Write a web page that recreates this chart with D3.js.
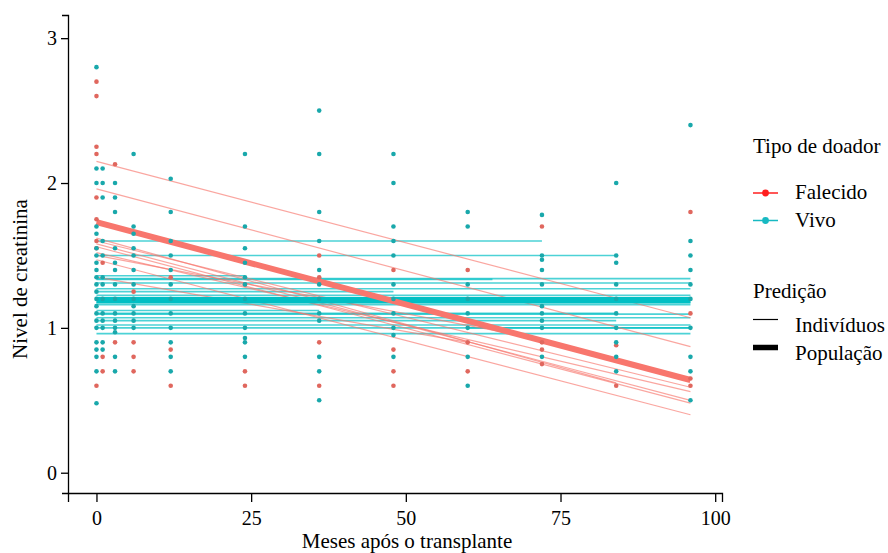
<!DOCTYPE html>
<html>
<head>
<meta charset="utf-8">
<script src="https://cdn.jsdelivr.net/npm/d3@7"></script>
<style>
    body { margin: 0; background: #fff; }
    svg text { font-family: "Liberation Serif", "Times New Roman", serif; fill: #000; }
</style>
</head>
<body>
<div id="chart"></div>
<script>
// observed creatinine levels, [month, level]
const pontosVivo = [
    [0, 2.8], [0, 2.1], [0, 2.0], [0, 1.7], [0, 1.65], [0, 1.55], [0, 1.5], [0, 1.45], [0, 1.4], [0, 1.35],
    [0, 1.3], [0, 1.25], [0, 1.2], [0, 1.15], [0, 1.1], [0, 1.05], [0, 1.0], [0, 0.9], [0, 0.85], [0, 0.8],
    [0, 0.7], [0, 0.48],
    [1, 2.1], [1, 2.0], [1, 1.9], [1, 1.6], [1, 1.5], [1, 1.35], [1, 1.3], [1, 1.2], [1, 1.1], [1, 1.05],
    [1, 1.0], [1, 0.9], [1, 0.85],
    [3, 2.0], [3, 1.9], [3, 1.8], [3, 1.55], [3, 1.45], [3, 1.4], [3, 1.3], [3, 1.2], [3, 1.1], [3, 1.05],
    [3, 1.0], [3, 0.97], [3, 0.8], [3, 0.7],
    [6, 2.2], [6, 1.7], [6, 1.65], [6, 1.55], [6, 1.5], [6, 1.4], [6, 1.3], [6, 1.2], [6, 1.15], [6, 1.1],
    [6, 1.05], [6, 1.0],
    [12, 2.03], [12, 1.8], [12, 1.6], [12, 1.5], [12, 1.4], [12, 1.3], [12, 1.2], [12, 1.1], [12, 1.0],
    [12, 0.9], [12, 0.8], [12, 0.7],
    [24, 2.2], [24, 1.7], [24, 1.55], [24, 1.45], [24, 1.35], [24, 1.3], [24, 1.2], [24, 1.1], [24, 1.0],
    [24, 0.93], [24, 0.9], [24, 0.8],
    [36, 2.5], [36, 2.2], [36, 1.8], [36, 1.6], [36, 1.4], [36, 1.3], [36, 1.2], [36, 1.1], [36, 1.05],
    [36, 0.8], [36, 0.7], [36, 0.5],
    [48, 2.2], [48, 2.0], [48, 1.7], [48, 1.6], [48, 1.5], [48, 1.3], [48, 1.2], [48, 1.1], [48, 1.0],
    [48, 0.95], [48, 0.8],
    [60, 1.8], [60, 1.7], [60, 1.3], [60, 1.2], [60, 1.1], [60, 1.0], [60, 0.8], [60, 0.6],
    [72, 1.78], [72, 1.5], [72, 1.47], [72, 1.4], [72, 1.3], [72, 1.15], [72, 1.1], [72, 1.05], [72, 1.0],
    [72, 0.8],
    [84, 2.0], [84, 1.5], [84, 1.45], [84, 1.3], [84, 1.2], [84, 1.1], [84, 1.0], [84, 0.9], [84, 0.8],
    [84, 0.7],
    [96, 2.4], [96, 1.6], [96, 1.5], [96, 1.4], [96, 1.3], [96, 1.2], [96, 1.0], [96, 0.8], [96, 0.7],
    [96, 0.5]
];
const pontosFalecido = [
    [0, 2.7], [0, 2.6], [0, 2.25], [0, 2.2], [0, 1.9], [0, 1.75], [0, 1.6], [0, 1.55], [0, 0.6],
    [1, 1.45], [1, 0.8], [1, 0.7],
    [3, 2.13], [3, 0.9],
    [6, 1.25], [6, 0.9], [6, 0.8], [6, 0.7],
    [12, 1.35], [12, 0.85], [12, 0.6],
    [24, 1.3], [24, 0.7], [24, 0.6],
    [36, 1.5], [36, 1.35], [36, 0.9], [36, 0.6],
    [48, 1.4], [48, 0.85], [48, 0.7], [48, 0.6],
    [60, 1.4], [60, 0.9], [60, 0.7],
    [72, 1.7], [72, 0.9], [72, 0.85], [72, 0.75],
    [84, 0.88], [84, 0.6],
    [96, 1.8], [96, 1.1], [96, 0.65], [96, 0.6]
];

// individual predictions, Vivo: [level, first month, last month]
const individuosVivo = [
    [1.60, 0, 72], [1.50, 0, 84], [1.36, 0, 24], [1.34, 0, 96], [1.335, 0, 64], [1.31, 0, 96],
    [1.27, 0, 96], [1.25, 0, 48], [1.225, 0, 96], [1.21, 0, 96], [1.20, 0, 96], [1.175, 0, 96],
    [1.16, 0, 96], [1.12, 0, 36], [1.10, 0, 84], [1.095, 0, 96], [1.07, 0, 96], [1.05, 0, 84],
    [1.02, 0, 96], [1.00, 0, 96], [1.00, 60, 96], [0.96, 0, 96]
];
// individual predictions, Falecido: [level at month 0, level at last month, last month]
const individuosFalecido = [
    [2.15, 1.07, 96], [1.96, 0.87, 96], [1.62, 0.62, 84], [1.60, 0.59, 96], [1.58, 0.50, 96],
    [1.56, 0.48, 96], [1.52, 0.56, 96], [1.50, 0.92, 72], [1.47, 0.40, 96], [1.35, 0.90, 60]
];

// population predictions
const mesesPopulacao = [0, 96];
const populacaoVivo = [1.19, 1.19];
const populacaoFalecido = [1.73, 0.64];

const ticksX = [0, 25, 50, 75, 100];
const ticksY = [0, 1, 2, 3];
const legendaDoador = ["Falecido", "Vivo"];
const legendaPredicao = ["Indivíduos", "População"];

const COR_FALECIDO = "#F8766D";
const COR_VIVO = "#00BFC4";
const FONTE = "'Liberation Serif', 'Times New Roman', serif";

let width = 888;
let height = 553;

let svg = d3.select("#chart")
    .append("svg")
    .attr("width", width)
    .attr("height", height);

let x = d3.scaleLinear().domain([-4.6, 101.1]).range([68, 722]);
let y = d3.scaleLinear().domain([-0.14, 3.16]).range([493, 15]);

let line = d3.line()
    .x(function (d) { return x(d[0]); })
    .y(function (d) { return y(d[1]); });

let plot = svg.append("g");

// thin lines for each patient
plot.append("g").selectAll("path")
    .data(individuosVivo)
    .enter().append("path")
    .attr("d", function (d) { return line([[d[1], d[0]], [d[2], d[0]]]); })
    .attr("fill", "none")
    .attr("stroke", COR_VIVO)
    .attr("stroke-opacity", 0.7)
    .attr("stroke-width", 1.6);

plot.append("g").selectAll("path")
    .data(individuosFalecido)
    .enter().append("path")
    .attr("d", function (d) { return line([[0, d[0]], [d[2], d[1]]]); })
    .attr("fill", "none")
    .attr("stroke", COR_FALECIDO)
    .attr("stroke-opacity", 0.65)
    .attr("stroke-width", 1.2);

// population lines
plot.append("path")
    .attr("d", line(mesesPopulacao.map(function (m, i) { return [m, populacaoVivo[i]]; })))
    .attr("fill", "none")
    .attr("stroke", COR_VIVO)
    .attr("stroke-width", 6.5);

plot.append("path")
    .attr("d", line(mesesPopulacao.map(function (m, i) { return [m, populacaoFalecido[i]]; })))
    .attr("fill", "none")
    .attr("stroke", COR_FALECIDO)
    .attr("stroke-width", 6);

// observed points on top
plot.append("g").selectAll("circle")
    .data(pontosFalecido)
    .enter().append("circle")
    .attr("cx", function (d) { return x(d[0]); })
    .attr("cy", function (d) { return y(d[1]); })
    .attr("r", 2.3)
    .attr("fill", "#E0675E");

plot.append("g").selectAll("circle")
    .data(pontosVivo)
    .enter().append("circle")
    .attr("cx", function (d) { return x(d[0]); })
    .attr("cy", function (d) { return y(d[1]); })
    .attr("r", 2.3)
    .attr("fill", "#19A8AB");

// axes
let xAxis = svg.append("g")
    .attr("transform", "translate(0,493)")
    .call(d3.axisBottom(x).tickValues(ticksX).tickFormat(d3.format("d"))
        .tickSize(9).tickSizeOuter(9).tickPadding(9));

let yAxis = svg.append("g")
    .attr("transform", "translate(68,0)")
    .call(d3.axisLeft(y).tickValues(ticksY).tickFormat(d3.format("d"))
        .tickSize(7).tickSizeOuter(6).tickPadding(4));

[xAxis, yAxis].forEach(function (a) {
    a.attr("font-family", FONTE).attr("font-size", 20);
    a.selectAll("path, line").attr("stroke", "#000").attr("stroke-width", 1.3);
    a.selectAll("text").attr("fill", "#000");
});

svg.append("text")
    .attr("x", 407)
    .attr("y", 548)
    .attr("text-anchor", "middle")
    .attr("font-family", FONTE)
    .attr("font-size", 21)
    .text("Meses após o transplante");

svg.append("text")
    .attr("transform", "translate(27,279) rotate(-90)")
    .attr("text-anchor", "middle")
    .attr("font-family", FONTE)
    .attr("font-size", 21)
    .text("Nivel de creatinina");

// legend
let legenda = svg.append("g")
    .attr("font-family", FONTE)
    .attr("font-size", 21);

legenda.append("text")
    .attr("x", 753)
    .attr("y", 153)
    .text("Tipo de doador");

let coresLegenda = ["#FF1E1E", "#17B9C2"];
let itensDoador = legenda.selectAll("g.doador")
    .data(legendaDoador)
    .enter().append("g")
    .attr("class", "doador")
    .attr("transform", function (d, i) { return "translate(0," + (193 + i * 27.5) + ")"; });

itensDoador.append("line")
    .attr("x1", 753).attr("x2", 778)
    .attr("stroke", function (d, i) { return coresLegenda[i]; })
    .attr("stroke-width", 1.5);
itensDoador.append("circle")
    .attr("cx", 765.5)
    .attr("r", 3.4)
    .attr("fill", function (d, i) { return coresLegenda[i]; });
itensDoador.append("text")
    .attr("x", 795)
    .attr("y", 6)
    .text(function (d) { return d; });

legenda.append("text")
    .attr("x", 753)
    .attr("y", 298)
    .text("Predição");

let itensPredicao = legenda.selectAll("g.predicao")
    .data(legendaPredicao)
    .enter().append("g")
    .attr("class", "predicao")
    .attr("transform", function (d, i) { return "translate(0," + (319.5 + i * 28) + ")"; });

itensPredicao.append("line")
    .attr("x1", 753).attr("x2", 778)
    .attr("stroke", "#000")
    .attr("stroke-width", function (d, i) { return i === 0 ? 1.2 : 5.5; });
itensPredicao.append("text")
    .attr("x", 795)
    .attr("y", 12)
    .text(function (d) { return d; });
</script>
</body>
</html>
